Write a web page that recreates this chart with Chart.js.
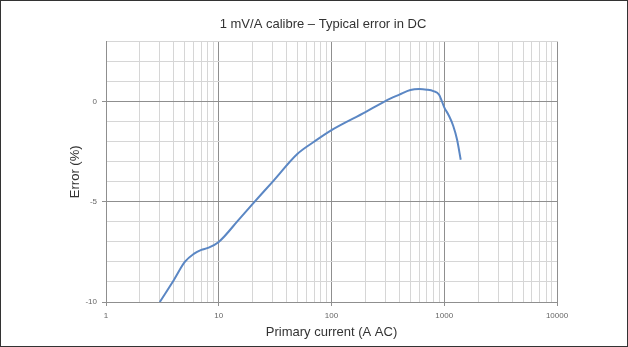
<!DOCTYPE html>
<html>
<head>
<meta charset="utf-8">
<script src="https://cdn.jsdelivr.net/npm/chart.js@4"></script>
<style>
    body { margin: 0; background: #fff; }
    .frame { width: 626px; height: 345px; border: 1px solid #333; }
</style>
</head>
<body>
<div class="frame"><canvas id="errorChart" width="626" height="345"></canvas></div>
<script>
// Data
const current = [3, 4, 5, 6, 7, 8, 10, 15, 20, 30, 50, 70, 100, 200, 300, 400, 500, 600, 700, 800, 900, 1000, 1100, 1200, 1300, 1400];
const errorPct = [-10, -8.9, -8.0, -7.6, -7.4, -7.3, -7.0, -5.9, -5.1, -4.0, -2.6, -2.0, -1.42, -0.52, 0.03, 0.35, 0.58, 0.63, 0.6, 0.53, 0.35, -0.28, -0.7, -1.2, -1.9, -2.9];
const xLabels = [1, 10, 100, 1000, 10000];
const yLabels = [0, -5, -10];

const sans = "'Liberation Sans', sans-serif";
const majorGrid = '#8f8f8f';
const minorGrid = '#d6d6d6';

function isDecade(v) {
    const l = Math.log10(v);
    return Math.abs(l - Math.round(l)) < 1e-9;
}

const ctx = document.getElementById('errorChart').getContext('2d');
new Chart(ctx, {
    type: 'line',
    data: {
        datasets: [{
            data: current.map((c, i) => ({ x: c, y: errorPct[i] })),
            borderColor: '#5b87c4',
            borderWidth: 2,
            pointRadius: 0,
            cubicInterpolationMode: 'monotone',
            yAxisID: 'y'
        }]
    },
    options: {
        responsive: false,
        animation: false,
        layout: { padding: { left: 18, right: 0, top: 0, bottom: 0 } },
        plugins: {
            legend: { display: false },
            tooltip: { enabled: false },
            title: {
                display: true,
                text: '1 mV/A calibre – Typical error in DC',
                color: '#333',
                font: { family: sans, size: 13, weight: 'normal', lineHeight: 1.2 },
                padding: { top: 16, bottom: 9 }
            }
        },
        scales: {
            x: {
                type: 'logarithmic',
                min: 1,
                max: 10000,
                afterBuildTicks: scale => {
                    const t = [];
                    for (let k = 0; k < 4; k++) {
                        for (let m = 1; m < 10; m++) t.push({ value: m * Math.pow(10, k) });
                    }
                    t.push({ value: 10000 });
                    scale.ticks = t;
                },
                afterFit: scale => { scale.height = 44; },
                grid: {
                    color: c => (c.tick && isDecade(c.tick.value)) ? majorGrid : minorGrid,
                    tickColor: c => (c.tick && isDecade(c.tick.value)) ? majorGrid : 'rgba(0,0,0,0)',
                    tickLength: 4
                },
                border: { color: majorGrid },
                ticks: {
                    autoSkip: false,
                    maxRotation: 0,
                    padding: 5,
                    color: '#666',
                    font: { family: sans, size: 8 },
                    callback: v => xLabels.includes(v) ? String(v) : ''
                },
                title: {
                    display: true,
                    text: 'Primary current (A AC)',
                    color: '#333',
                    font: { family: sans, size: 13, lineHeight: 1.2 },
                    padding: { top: 0, bottom: 6 }
                }
            },
            y: {
                type: 'linear',
                min: -10,
                max: 3,
                afterFit: scale => { scale.width = 87; },
                grid: {
                    color: c => (c.tick && c.tick.value % 5 === 0) ? majorGrid : minorGrid,
                    tickColor: c => (c.tick && c.tick.value % 5 === 0) ? majorGrid : 'rgba(0,0,0,0)',
                    tickLength: 4
                },
                border: { color: majorGrid },
                ticks: {
                    stepSize: 1,
                    autoSkip: false,
                    padding: 5,
                    color: '#666',
                    font: { family: sans, size: 8 },
                    callback: v => yLabels.includes(v) ? String(v) : ''
                },
                title: {
                    display: true,
                    text: 'Error (%)',
                    color: '#333',
                    font: { family: sans, size: 13, lineHeight: 1.2 },
                    padding: { top: 49, bottom: 0 }
                }
            },
            y2: {
                type: 'linear',
                position: 'right',
                afterFit: scale => { scale.width = 70; },
                grid: { display: false },
                border: { display: false },
                ticks: { display: false }
            }
        }
    }
});
</script>
</body>
</html>
